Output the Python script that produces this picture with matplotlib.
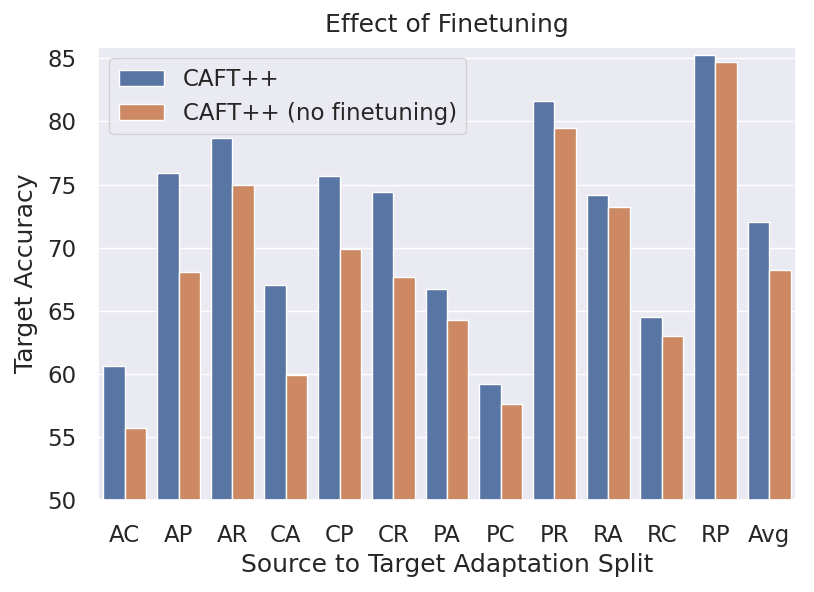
import matplotlib
matplotlib.use("Agg")
import matplotlib.pyplot as plt
import seaborn as sns
import pandas as pd

splits = ["AC", "AP", "AR", "CA", "CP", "CR", "PA", "PC", "PR", "RA", "RC", "RP", "Avg"]
caft = [60.6, 75.9, 78.7, 67.0, 75.7, 74.4, 66.7, 59.2, 81.6, 74.2, 64.5, 85.3, 72.0]
caft_noft = [55.7, 68.1, 75.0, 59.9, 69.9, 67.7, 64.3, 57.6, 79.5, 73.2, 63.0, 84.7, 68.2]
series_names = ["CAFT++", "CAFT++ (no finetuning)"]

sns.set_theme(style="darkgrid", font_scale=1.5)
plt.rcParams['font.family'] = ['DejaVu Sans']

df = pd.DataFrame({
    "split": splits * 2,
    "acc": caft + caft_noft,
    "method": [series_names[0]] * len(splits) + [series_names[1]] * len(splits),
})

fig = plt.figure(figsize=(8.14, 5.92), dpi=100)
ax = fig.add_axes([98 / 814, 1 - 500 / 592, (796 - 98) / 814, (500 - 47) / 592])
sns.barplot(data=df, x="split", y="acc", hue="method", ax=ax, errorbar=None)
ax.set_ylim(50, 85.9)
ax.set_xlim(-0.5, len(splits) - 0.5)
ax.tick_params(axis='x', pad=11.5)
ax.tick_params(axis='y', pad=9.5)
ax.set_xlabel("Source to Target Adaptation Split")
ax.set_ylabel("Target Accuracy", labelpad=6.5)
ax.set_title("Effect of Finetuning", pad=10.5)
ax.legend(loc="upper left", title=None)
fig.savefig("out.png", dpi=100)
